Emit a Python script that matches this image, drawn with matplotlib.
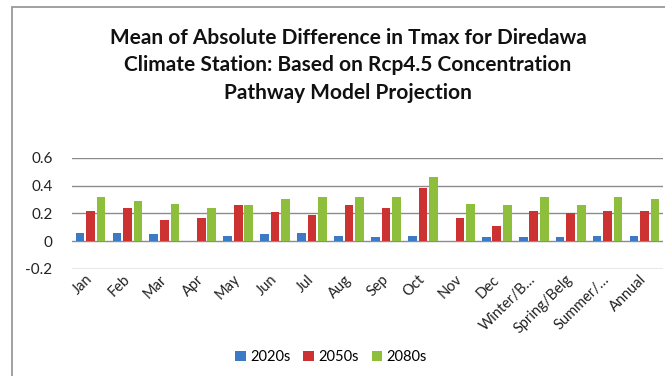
import matplotlib
matplotlib.use("Agg")
import matplotlib.pyplot as plt
from matplotlib.patches import Rectangle, Patch
import numpy as np

categories = ["Jan", "Feb", "Mar", "Apr", "May", "Jun", "Jul", "Aug", "Sep",
              "Oct", "Nov", "Dec", "Winter/B\u2026", "Spring/Belg", "Summer/\u2026", "Annual"]
s2020 = [0.06, 0.06, 0.05, 0.00, 0.04, 0.05, 0.06, 0.04, 0.03, 0.04, 0.00, 0.03, 0.03, 0.03, 0.04, 0.04]
s2050 = [0.22, 0.24, 0.15, 0.17, 0.26, 0.21, 0.19, 0.26, 0.24, 0.385, 0.17, 0.11, 0.22, 0.20, 0.22, 0.22]
s2080 = [0.32, 0.29, 0.27, 0.24, 0.26, 0.30, 0.32, 0.32, 0.32, 0.46, 0.27, 0.26, 0.32, 0.26, 0.32, 0.30]
series_names = ["2020s", "2050s", "2080s"]
colors = ["#3C7AC6", "#CC3232", "#8DBE3C"]
yticks = [-0.2, 0, 0.2, 0.4, 0.6]
ytick_labels = ["-0.2", "0", "0.2", "0.4", "0.6"]
title_lines = ["Mean of Absolute Difference in Tmax for Diredawa",
               "Climate Station: Based on Rcp4.5 Concentration",
               "Pathway Model Projection"]

plt.rcParams["font.family"] = ["Lato", "DejaVu Sans"]

W, H = 665, 376
fig = plt.figure(figsize=(W / 100, H / 100), dpi=100)
fig.patch.set_facecolor("white")

# chart frame
fig.add_artist(Rectangle((12 / W, -0.05), 1.1, (H - 7) / H + 0.05,
                         transform=fig.transFigure, fill=False,
                         edgecolor="#9a9a9a", linewidth=1.3))

ax = fig.add_axes([72 / W, (H - 269) / H, (663 - 72) / W, (269 - 157.7) / H])
x = np.arange(len(categories))
bw = 0.235
step = 0.285
for i, (vals, name, c) in enumerate(zip([s2020, s2050, s2080], series_names, colors)):
    ax.bar(x + (i - 1) * step, vals, width=bw, color=c, label=name, zorder=3)

ax.set_xlim(-0.5, len(categories) - 0.5)
ax.set_ylim(-0.2, 0.6)
ax.set_yticks(yticks)
ax.set_yticklabels(ytick_labels, fontsize=11, color="#222222")
ax.yaxis.grid(True, color="#8c8c8c", linewidth=1.0, zorder=0)
ax.set_axisbelow(True)
for sp in ax.spines.values():
    sp.set_visible(False)
ax.tick_params(axis="both", length=0)
ax.tick_params(axis="y", pad=14)
ax.set_xticks(x)
ax.set_xticklabels(categories, rotation=45, ha="right", va="center",
                   rotation_mode="anchor", fontsize=10.5, color="#222222")
ax.tick_params(axis="x", pad=6)

for line, ypix in zip(title_lines, [38, 65, 93]):
    fig.text(348 / W, (H - ypix) / H, line, ha="center", va="center",
             fontsize=15, fontweight="bold", color="#111111")

handles = [Patch(facecolor=c, edgecolor="none") for c in colors]
fig.legend(handles, series_names, loc="center", bbox_to_anchor=(331 / W, (H - 357) / H),
           ncol=3, frameon=False, fontsize=10.5, handlelength=0.7, handleheight=0.7,
           handletextpad=0.3, columnspacing=0.9)

fig.savefig("out.png", dpi=100)
